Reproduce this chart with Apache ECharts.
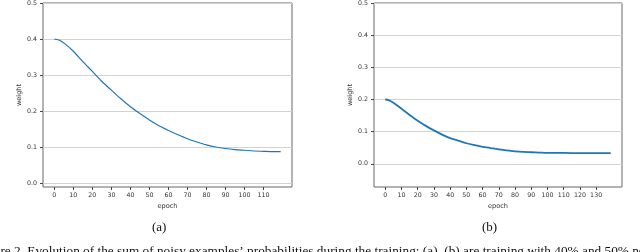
<!DOCTYPE html>
<html><head><meta charset="utf-8">
<script src="https://cdn.jsdelivr.net/npm/echarts@6/dist/echarts.min.js"></script>
<style>html,body{margin:0;padding:0;background:#fff}#c{width:640px;height:252px}</style>
</head><body><div id="c"></div>
<script>
// (a) noise 40%
const epochsA = [0,3,6,10,15,20,25,30,35,40,45,50,55,60,65,70,75,80,85,90,95,100,105,110,115,119];
const weightA = [0.400,0.396,0.385,0.366,0.337,0.310,0.282,0.258,0.234,0.212,0.193,0.175,0.159,0.146,0.134,0.123,0.114,0.106,0.100,0.096,0.093,0.091,0.089,0.088,0.087,0.087];
// (b) noise 50%
const epochsB = [0,2,5,10,15,20,25,30,35,40,45,50,55,60,65,70,75,80,85,90,95,100,110,120,130,139];
const weightB = [0.200,0.198,0.190,0.171,0.152,0.134,0.118,0.104,0.091,0.080,0.072,0.064,0.058,0.053,0.049,0.045,0.042,0.039,0.037,0.036,0.035,0.034,0.034,0.033,0.033,0.033];
const xTicksA = [0,10,20,30,40,50,60,70,80,90,100,110];
const xTicksB = [0,10,20,30,40,50,60,70,80,90,100,110,120,130];
const yTicks = [0.0,0.1,0.2,0.3,0.4,0.5];
const xName = 'epoch', yName = 'weight';
const panelLabels = ['(a)','(b)'];
const caption = "Figure 2. Evolution of the sum of noisy examples\u2019 probabilities during the training; (a), (b) are training with 40% and 50% noisy labels";

const tickFont = {fontFamily:'DejaVu Sans', fontSize:6.3, color:'#333'};
const nameFont = {fontFamily:'DejaVu Sans', fontSize:6.6, color:'#333'};
function xAx(gi, min, max, ticks){
  return {type:'value', gridIndex:gi, min:min, max:max,
    axisLine:{show:false, onZero:false},
    axisTick:{show:true, customValues:ticks, length:3, lineStyle:{color:'#444'}},
    axisLabel:Object.assign({customValues:ticks, margin:5, formatter:v=>String(Math.round(v))}, tickFont),
    splitLine:{show:false},
    name:xName, nameLocation:'middle', nameGap:11, nameTextStyle:nameFont};
}
function yAx(gi, min){
  return {type:'value', gridIndex:gi, min:min, max:0.5,
    axisLine:{show:false, onZero:false},
    axisTick:{show:true, customValues:yTicks, length:3, lineStyle:{color:'#444'}},
    axisLabel:Object.assign({customValues:yTicks, margin:6, formatter:v=>v.toFixed(1)}, tickFont),
    splitLine:{show:true, lineStyle:{color:'#d2d2d2', width:1}},
    name:yName, nameLocation:'middle', nameGap:15, nameTextStyle:nameFont};
}
const chart = echarts.init(document.getElementById('c'), null, {renderer:'canvas'});
chart.setOption({
  animation:false,
  grid:[
    {left:43, top:3, width:249, height:184, show:true, borderColor:'#666', borderWidth:1, backgroundColor:'transparent'},
    {left:374, top:3, width:248, height:184, show:true, borderColor:'#666', borderWidth:1, backgroundColor:'transparent'}
  ],
  xAxis:[xAx(0,-5.95,124.95,xTicksA), xAx(1,-6.95,145.95,xTicksB)],
  yAxis:[yAx(0,-0.011), yAx(1,-0.072)],
  series:[
    {type:'line', xAxisIndex:0, yAxisIndex:0, showSymbol:false, smooth:0.25,
     data:epochsA.map((e,i)=>[e,weightA[i]]), lineStyle:{color:'#1f77b4', width:1.2}},
    {type:'line', xAxisIndex:1, yAxisIndex:1, showSymbol:false, smooth:0.25,
     data:epochsB.map((e,i)=>[e,weightB[i]]), lineStyle:{color:'#1f77b4', width:1.8}}
  ],
  graphic:[
    {type:'text', left:152, top:221, style:{text:panelLabels[0], font:'13px "Liberation Serif"', fill:'#111'}},
    {type:'text', left:482, top:221, style:{text:panelLabels[1], font:'13px "Liberation Serif"', fill:'#111'}},
    {type:'text', left:-24, top:245, style:{text:caption, font:'13.3px "Liberation Serif"', fill:'#111'}}
  ]
});
</script></body></html>
